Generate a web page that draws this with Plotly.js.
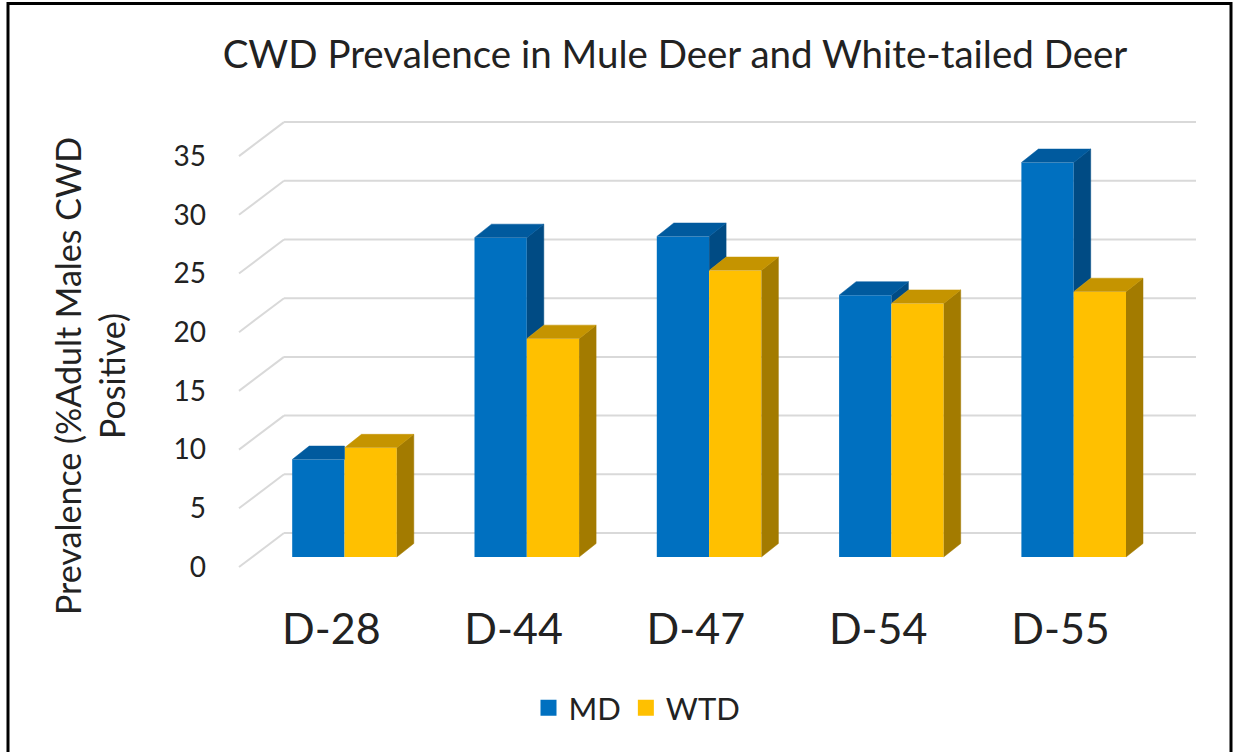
<!DOCTYPE html>
<html>
<head>
<meta charset="utf-8">
<script src="https://cdn.plot.ly/plotly-3.0.1.min.js"></script>
<style>html,body{margin:0;padding:0;background:#fff;}#chart{width:1236px;height:752px;}</style>
</head>
<body>
<div id="chart"></div>
<script>
// ---- data ----
const categories = ["D-28", "D-44", "D-47", "D-54", "D-55"];
const mdValues  = [8.3, 27.2, 27.3, 22.3, 33.6];
const wtdValues = [9.3, 18.6, 24.4, 21.6, 22.6];
const gridValues = [0, 5, 10, 15, 20, 25, 30, 35];
const seriesNames = ["MD", "WTD"];

// ---- styling / geometry constants (3D look) ----
const FONT = "Lato, 'Open Sans', sans-serif";
const PXX = 182.3, PXY = 11.74;           // px per x unit, px per y unit
const X0PX = 331.3, Y0PX = 567;           // pixel of x=0, y=0 on front plane
const W = 1236, H = 752;
const sx = 13.2 / PXX, sy = 10 / PXY;     // bar front plane shift
const bw = 52.3 / PXX;                    // bar width
const dx = 17 / PXX, dy = 13.5 / PXY;     // bar depth
const gFront = (239 - X0PX) / PXX, gBack = (284 - X0PX) / PXX, gEnd = (1196 - X0PX) / PXX;
const gDepth = 34 / PXY;
const col = {
  md:  {front: "#0070C0", top: "#005A9E", side: "#004B84"},
  wtd: {front: "#FFC000", top: "#C59400", side: "#A37B00"}
};

const idx = categories.map((_, i) => i);
const cx = idx.map(i => i + sx);

// polygons
function poly(list) { const xs = [], ys = []; list.forEach(p => { p.forEach(pt => { xs.push(pt[0]); ys.push(pt[1]); }); xs.push(null); ys.push(null); }); return {x: xs, y: ys}; }
const mdSide = [], mdTop = [], wtdSide = [], wtdTop = [];
idx.forEach(i => {
  const c = cx[i], tM = sy + mdValues[i], tW = sy + wtdValues[i];
  if (mdValues[i] > wtdValues[i]) {
    mdSide.push([[c, tW], [c + dx, tW + dy], [c + dx, tM + dy], [c, tM]]);
    mdTop.push([[c - bw, tM], [c - bw + dx, tM + dy], [c + dx, tM + dy], [c, tM]]);
  } else {
    mdTop.push([[c - bw, tM], [c - bw + dx, tM + dy], [c, tM + dy], [c, tM]]);
  }
  wtdTop.push([[c, tW], [c + dx, tW + dy], [c + bw + dx, tW + dy], [c + bw, tW]]);
  wtdSide.push([[c + bw, sy], [c + bw + dx, sy + dy], [c + bw + dx, tW + dy], [c + bw, tW]]);
});
function faceTrace(list, color) {
  const p = poly(list);
  return {type: "scatter", mode: "lines", x: p.x, y: p.y, fill: "toself", fillcolor: color,
          line: {color: color, width: 0.5}, hoverinfo: "skip", showlegend: false};
}

const traces = [
  {type: "bar", name: seriesNames[0], x: cx, y: mdValues, base: sy, width: bw, offset: -bw,
   marker: {color: col.md.front, line: {width: 0}}, showlegend: false, hoverinfo: "y"},
  {type: "bar", name: seriesNames[1], x: cx, y: wtdValues, base: sy, width: bw, offset: 0,
   marker: {color: col.wtd.front, line: {width: 0}}, showlegend: false, hoverinfo: "y"},
  faceTrace(mdSide, col.md.side),
  faceTrace(mdTop, col.md.top),
  faceTrace(wtdSide, col.wtd.side),
  faceTrace(wtdTop, col.wtd.top),
  {type: "scatter", mode: "markers", name: seriesNames[0], x: [null], y: [null],
   marker: {symbol: "square", size: 22, color: col.md.front}},
  {type: "scatter", mode: "markers", name: seriesNames[1], x: [null], y: [null],
   marker: {symbol: "square", size: 22, color: col.wtd.front}}
];

const shapes = [];
gridValues.forEach(v => {
  shapes.push({type: "line", xref: "x", yref: "y", layer: "below", x0: gFront, y0: v, x1: gBack, y1: v + gDepth,
               line: {color: "#D9D9D9", width: 2}});
  shapes.push({type: "line", xref: "x", yref: "y", layer: "below", x0: gBack, y0: v + gDepth, x1: gEnd, y1: v + gDepth,
               line: {color: "#D9D9D9", width: 2}});
});
shapes.push({type: "rect", xref: "paper", yref: "paper", x0: 8 / W, x1: 1231 / W, y0: -0.05, y1: 1 - 3.5 / H,
             line: {color: "#000", width: 3}, fillcolor: "rgba(0,0,0,0)", layer: "above"});

const layout = {
  width: W, height: H,
  margin: {l: 0, r: 0, t: 0, b: 0},
  paper_bgcolor: "#fff", plot_bgcolor: "rgba(0,0,0,0)",
  font: {family: FONT, color: "#222"},
  title: {text: "CWD Prevalence in Mule Deer and White-tailed Deer", font: {family: FONT, size: 38.5, color: "#222"},
          x: 675 / W, xanchor: "center", xref: "paper", y: 1 - 55 / H, yanchor: "middle", yref: "paper"},
  xaxis: {domain: [0, 1], range: [-X0PX / PXX, (W - X0PX) / PXX], anchor: "free", position: (H - 600) / H,
          tickmode: "array", tickvals: idx, ticktext: categories, tickfont: {family: FONT, size: 43, color: "#222"},
          showgrid: false, zeroline: false, showline: false, ticks: "", fixedrange: true},
  yaxis: {domain: [0, 1], range: [(Y0PX - H) / PXY, Y0PX / PXY], anchor: "free", position: 206 / W,
          tickmode: "array", tickvals: gridValues, ticktext: gridValues.map(String),
          tickfont: {family: FONT, size: 28, color: "#222"},
          showgrid: false, zeroline: false, showline: false, ticks: "", fixedrange: true,
          title: {text: "Prevalence (%Adult Males CWD<br>Positive)", font: {family: FONT, size: 34, color: "#222"}, standoff: 36}},
  showlegend: true,
  legend: {orientation: "h", x: 637 / W, xanchor: "center", y: 44 / H, yanchor: "middle",
           font: {family: FONT, size: 31, color: "#222"}, bgcolor: "rgba(0,0,0,0)", itemclick: false},
  shapes: shapes,
  barmode: "overlay"
};

Plotly.newPlot("chart", traces, layout, {displayModeBar: false, staticPlot: true});
</script>
</body>
</html>
